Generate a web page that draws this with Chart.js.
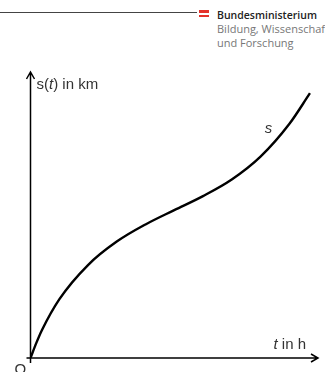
<!DOCTYPE html>
<html>
<head>
<meta charset="utf-8">
<script src="https://cdn.jsdelivr.net/npm/chart.js@4.4.0/dist/chart.umd.min.js"></script>
<style>
  html, body { margin: 0; padding: 0; background: #fff; overflow: hidden; }
  #wrap { position: relative; width: 325px; height: 372px; overflow: hidden; }
  #rule { position: absolute; left: 0; top: 11.5px; width: 197px; height: 1.2px; background: #444; }
  .flag { position: absolute; left: 199px; width: 10px; height: 2.5px; background: #e4322b; }
  #logo { position: absolute; left: 217px; top: 8px; font-family: "Open Sans", "Noto Sans", sans-serif;
          font-size: 11px; line-height: 13.4px; color: #777; white-space: nowrap; }
  #logo b { color: #222; font-weight: 600; font-size: 10.5px; }
  canvas { position: absolute; left: 0; top: 0; }
</style>
</head>
<body>
<div id="wrap">
  <div id="rule"></div>
  <div class="flag" style="top:10px"></div>
  <div class="flag" style="top:14.5px"></div>
  <div id="logo"><b>Bundesministerium</b><br>Bildung, Wissenschaft<br>und Forschung</div>
  <canvas id="chart" width="325" height="372"></canvas>
</div>
<script>
// time t (h) and distance s(t) (km), arbitrary units on both axes
const tValues = [0, 0.2, 0.4, 1, 2, 3, 4, 5, 6, 7, 8, 9, 9.72];
const sValues = [0, 0.52, 0.98, 2.05, 3.25, 4.07, 4.67, 5.17, 5.66, 6.24, 7.04, 8.18, 9.26];

const yLabel = ['s(', 't', ') in km'];
const xLabel = ['t', ' in h'];
const curveLabel = 's';
const originLabel = 'O';

const FONT = '15px "Liberation Sans", Arial, sans-serif';
const FONT_IT = 'italic 15px "Liberation Sans", Arial, sans-serif';

// draws text pieces alternating upright / italic
function drawMixed(ctx, parts, x, y, italicFirst) {
  let cx = x;
  parts.forEach((p, i) => {
    const it = italicFirst ? i % 2 === 0 : i % 2 === 1;
    ctx.font = it ? FONT_IT : FONT;
    ctx.fillText(p, cx, y);
    cx += ctx.measureText(p).width;
  });
}

const axesPlugin = {
  id: 'arrowAxes',
  beforeDatasetsDraw(chart) {
    const {ctx, scales: {x, y}} = chart;
    const x0 = x.getPixelForValue(0), y0 = y.getPixelForValue(0);
    const xEnd = x.right, yEnd = y.top;
    ctx.save();
    ctx.strokeStyle = '#000';
    ctx.lineWidth = 1.5;
    ctx.beginPath();
    // y axis
    ctx.moveTo(x0, y0 + 5);
    ctx.lineTo(x0, yEnd);
    ctx.moveTo(x0 - 4, yEnd + 7);
    ctx.lineTo(x0, yEnd);
    ctx.lineTo(x0 + 4, yEnd + 7);
    // x axis
    ctx.moveTo(x0 - 4, y0);
    ctx.lineTo(xEnd, y0);
    ctx.moveTo(xEnd - 7, y0 - 4);
    ctx.lineTo(xEnd, y0);
    ctx.lineTo(xEnd - 7, y0 + 4);
    ctx.stroke();

    ctx.fillStyle = '#333';
    ctx.textBaseline = 'alphabetic';
    drawMixed(ctx, yLabel, x0 + 6, yEnd + 17, false);
    ctx.font = FONT;
    const w = ctx.measureText(xLabel[1]).width;
    ctx.font = FONT_IT;
    const wt = ctx.measureText(xLabel[0]).width;
    drawMixed(ctx, xLabel, xEnd - 12 - w - wt, y0 - 9, true);
    ctx.font = FONT_IT;
    ctx.fillText(curveLabel, x.getPixelForValue(8.15), y.getPixelForValue(7.85));
    ctx.font = FONT;
    ctx.fillText(originLabel, x0 - 16, y0 + 16);
    ctx.restore();
  }
};

new Chart(document.getElementById('chart'), {
  type: 'line',
  data: {
    datasets: [{
      data: tValues.map((t, i) => ({x: t, y: sValues[i]})),
      borderColor: '#000',
      borderWidth: 2.4,
      pointRadius: 0,
      cubicInterpolationMode: 'monotone',
      fill: false
    }]
  },
  options: {
    responsive: false,
    animation: false,
    layout: { padding: { left: 30.5, right: 7, top: 72, bottom: 14 } },
    scales: {
      x: { type: 'linear', min: 0, max: 10, display: false },
      y: { type: 'linear', min: 0, max: 10, display: false }
    },
    plugins: { legend: { display: false }, tooltip: { enabled: false } }
  },
  plugins: [axesPlugin]
});
</script>
</body>
</html>
